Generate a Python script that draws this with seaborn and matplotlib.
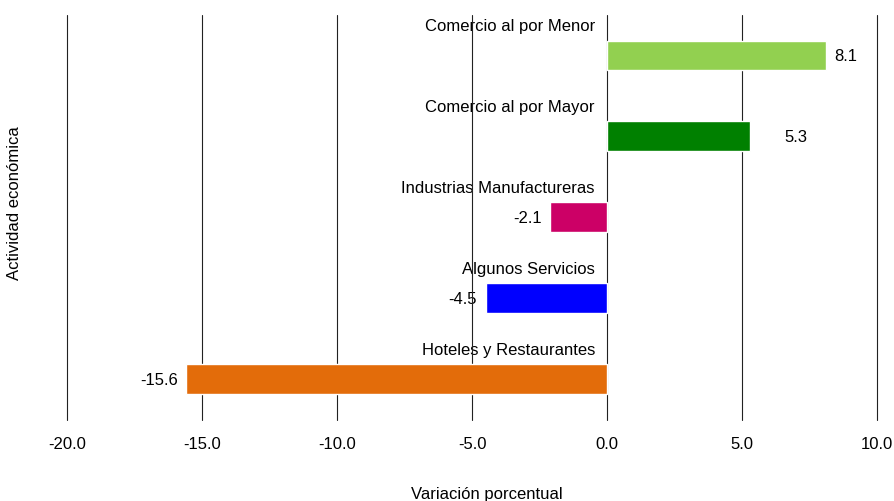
import numpy as np
import pandas as pd
import seaborn as sns
import matplotlib.pyplot as plt

# datos
actividades = ["Comercio al por Menor", "Comercio al por Mayor", "Industrias Manufactureras",
               "Algunos Servicios", "Hoteles y Restaurantes"]
variacion = [8.1, 5.3, -2.1, -4.5, -15.6]
colores = ["#92D050", "#008000", "#CC0066", "#0000FF", "#E36C0A"]
ticks_x = [-20, -15, -10, -5, 0, 5, 10]

df = pd.DataFrame({"actividad": actividades, "variacion": variacion})

sns.set_style("white")
plt.rcParams['font.family'] = ['Liberation Sans', 'DejaVu Sans']
plt.rcParams['text.color'] = 'black'
plt.rcParams['xtick.color'] = 'black'

fs = 12
fig = plt.figure(figsize=(8.94, 5.01), dpi=100)
ax = fig.add_axes([0.075, 0.162, 0.906, 0.808])

sns.barplot(data=df, x="variacion", y="actividad", hue="actividad", palette=colores,
            legend=False, width=0.37, saturation=1, ax=ax, zorder=3)

ax.set_xlim(-20, 10)
ax.set_ylim(4.5, -0.5)
ax.set_xticks(ticks_x)
ax.set_xticklabels([f"{t:.1f}" for t in ticks_x], fontsize=fs)
ax.tick_params(axis="x", length=0, pad=12)
ax.set_yticks([])
ax.set_ylabel("")
ax.set_xlabel("")
for s in ax.spines.values():
    s.set_visible(False)
ax.grid(axis="x", color="#222222", linewidth=0.8, zorder=0)
ax.set_axisbelow(True)
for ln in ax.get_xgridlines():
    ln.set_clip_on(False)

# etiquetas de categoria sobre cada barra
for i, nombre in enumerate(actividades):
    ax.text(-0.45, i - 0.36, nombre, ha="right", va="center", fontsize=fs, zorder=-1)

# etiquetas de valores
desplaz = [6, 25, -6, -6, -6]
for i, v in enumerate(variacion):
    ax.annotate(f"{v:.1f}", xy=(v, i), xytext=(desplaz[i], -1), textcoords="offset points",
                ha="left" if v > 0 else "right", va="center", fontsize=fs, zorder=-1)

fig.text(15 / 894, 1 - 203 / 501, "Actividad económica", rotation=90,
         ha="center", va="center", fontsize=fs)
fig.text(487 / 894, 1 - 494 / 501, "Variación porcentual", ha="center", va="center", fontsize=fs)

fig.savefig("out.png", dpi=100)
